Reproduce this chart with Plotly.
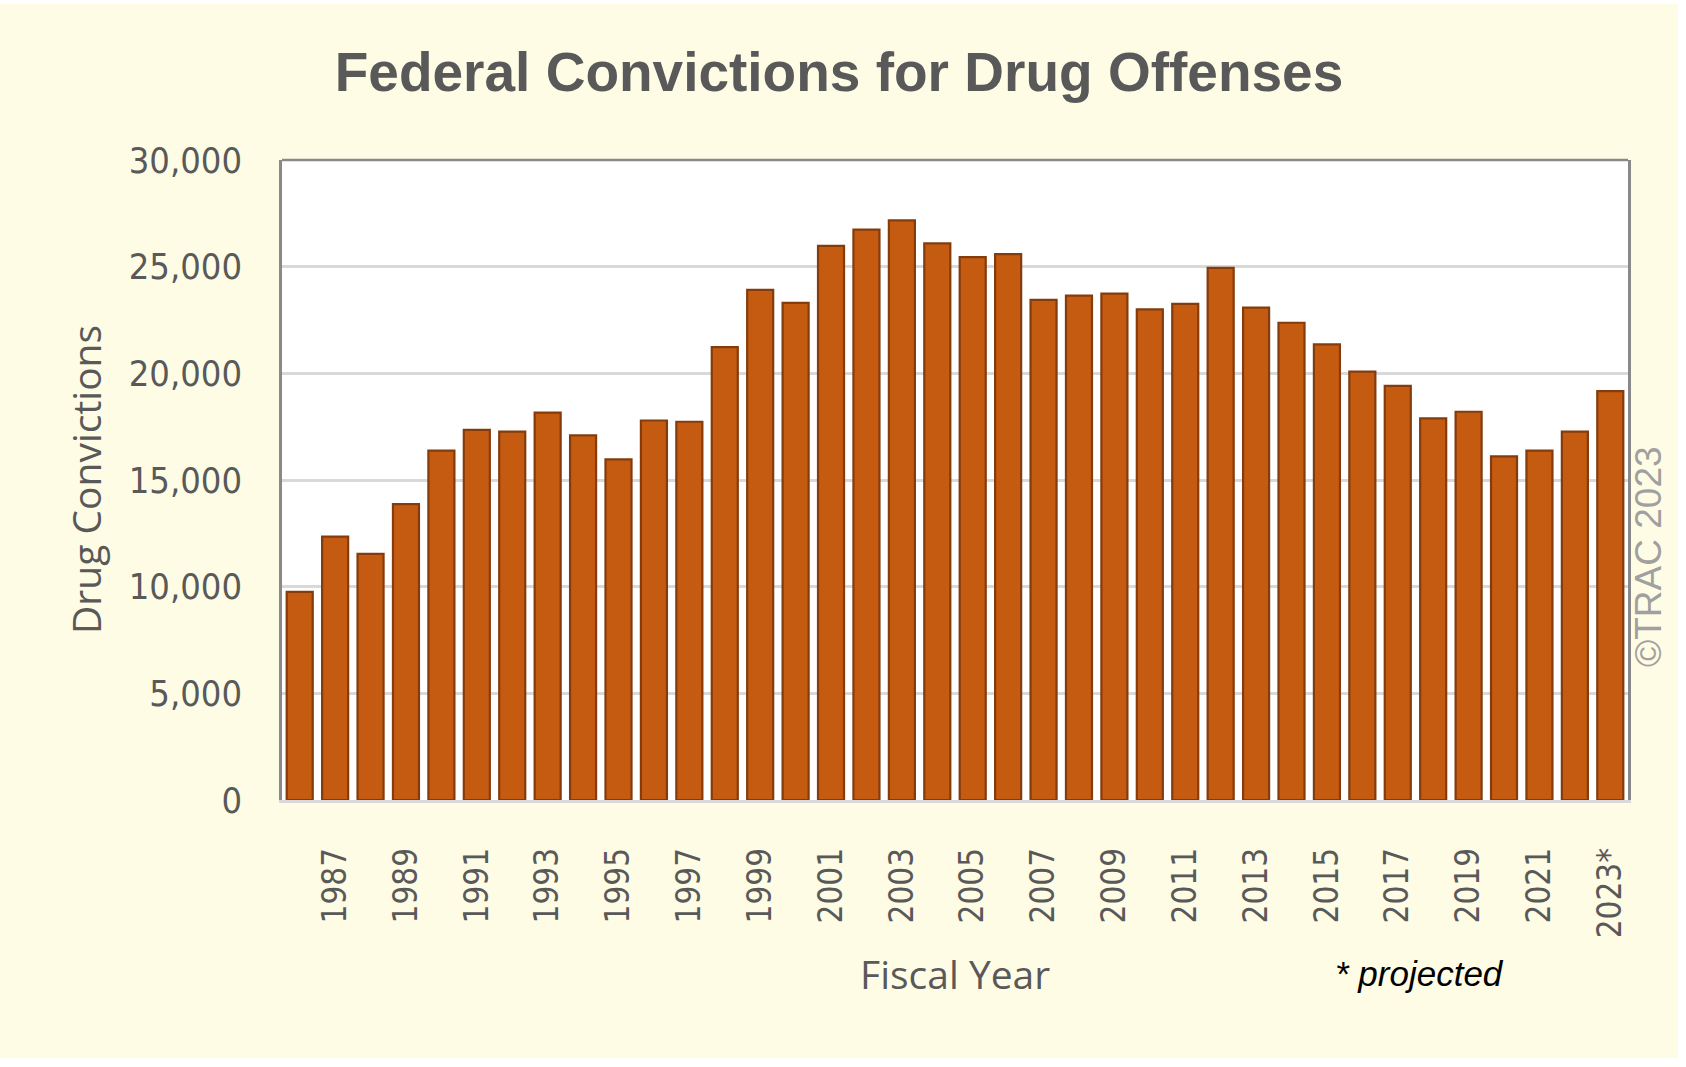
import plotly.graph_objects as go

# ---- data ----
years = ["1986", "1987", "1988", "1989", "1990", "1991", "1992", "1993", "1994", "1995",
         "1996", "1997", "1998", "1999", "2000", "2001", "2002", "2003", "2004", "2005",
         "2006", "2007", "2008", "2009", "2010", "2011", "2012", "2013", "2014", "2015",
         "2016", "2017", "2018", "2019", "2020", "2021", "2022", "2023"]
convictions = [9760, 12350, 11540, 13870, 16380, 17350, 17270, 18160, 17090, 15970,
               17790, 17730, 21230, 23910, 23300, 25970, 26740, 27170, 26090, 25450,
               25590, 23440, 23640, 23740, 23000, 23260, 24940, 23080, 22370, 21360,
               20080, 19410, 17890, 18200, 16110, 16380, 17270, 19170]
tick_years = ["1987", "1989", "1991", "1993", "1995", "1997", "1999", "2001", "2003",
              "2005", "2007", "2009", "2011", "2013", "2015", "2017", "2019", "2021", "2023"]
tick_labels = ["1987", "1989", "1991", "1993", "1995", "1997", "1999", "2001", "2003",
               "2005", "2007", "2009", "2011", "2013", "2015", "2017", "2019", "2021", "2023*"]

# ---- style ----
W, H = 1686, 1067
ML, MR, MT, MB = 282, 58, 160, 267
PW, PH = W - ML - MR, H - MT - MB
CREAM = "#FFFCE6"
BAR = "#C55A11"
EDGE = "#843C0C"
GRID = "#D9D9D9"
FRAME = "#898989"
TXT = "#595959"
TICKFONT = "DejaVu Sans Condensed, DejaVu Sans, sans-serif"
TITLEFONT = "Open Sans, sans-serif"


def px_x(p):
    return (p - ML) / PW


def px_y(p):
    return (H - MB - p) / PH


fig = go.Figure(go.Bar(
    x=years, y=convictions,
    marker=dict(color=BAR, line=dict(color=EDGE, width=2.2)),
    hoverinfo="x+y",
))

fig.update_layout(
    width=W, height=H,
    margin=dict(l=ML, r=MR, t=MT, b=MB),
    paper_bgcolor="white",
    plot_bgcolor="white",
    showlegend=False,
    bargap=0.265,
    title=dict(
        text="Federal Convictions for Drug Offenses",
        font=dict(family="Liberation Sans, Arial, sans-serif", size=55, color=TXT, weight="bold"),
        x=839 / W, xref="container", xanchor="center",
        y=1 - 72 / H, yref="container", yanchor="middle",
    ),
    shapes=[
        dict(type="rect", xref="paper", yref="paper", layer="below",
             x0=px_x(0), x1=px_x(1678), y0=px_y(1058), y1=px_y(4),
             fillcolor=CREAM, line=dict(width=0)),
        dict(type="rect", xref="paper", yref="paper", layer="below",
             x0=0, x1=1, y0=0, y1=1, fillcolor="white", line=dict(width=0)),
        dict(type="line", xref="paper", yref="paper", layer="above",
             x0=0, x1=1, y0=1, y1=1, line=dict(color=FRAME, width=2.5)),
    ],
    annotations=[
        dict(text="Drug Convictions", xref="paper", yref="paper",
             x=px_x(85), y=0.5, textangle=-90, showarrow=False,
             xanchor="center", yanchor="middle",
             font=dict(family=TITLEFONT, size=39, color=TXT)),
        dict(text="Fiscal Year", xref="paper", yref="paper",
             x=px_x(955), y=px_y(973), showarrow=False,
             xanchor="center", yanchor="middle",
             font=dict(family=TITLEFONT, size=39, color=TXT)),
        dict(text="* projected", xref="paper", yref="paper",
             x=px_x(1419), y=px_y(973), showarrow=False,
             xanchor="center", yanchor="middle",
             font=dict(family="Liberation Sans, Arial, sans-serif", size=35,
                       color="black", style="italic")),
        dict(text="©TRAC 2023", xref="paper", yref="paper",
             x=px_x(1648), y=px_y(557), textangle=-90, showarrow=False,
             xanchor="center", yanchor="middle",
             font=dict(family="Liberation Sans, Arial, sans-serif", size=37, color="#A0A0A0")),
    ],
)

fig.update_xaxes(
    type="category",
    tickmode="array", tickvals=tick_years, ticktext=tick_labels,
    tickangle=-90,
    tickfont=dict(family=TICKFONT, size=33, color=TXT),
    ticks="", ticklabelstandoff=32,
    showgrid=False, zeroline=False,
    showline=True, linecolor=GRID, linewidth=2.5,
)
fig.update_yaxes(
    range=[0, 30000], dtick=5000, tickformat=",",
    tickfont=dict(family=TICKFONT, size=36, color=TXT),
    ticks="", ticklabelstandoff=30,
    showgrid=True, gridcolor=GRID, gridwidth=2.5,
    zeroline=False,
    showline=True, mirror=True, linecolor=FRAME, linewidth=2.5,
)

fig.write_html("out.html", config={"displayModeBar": False},
               post_script="document.body.style.margin='0';")
